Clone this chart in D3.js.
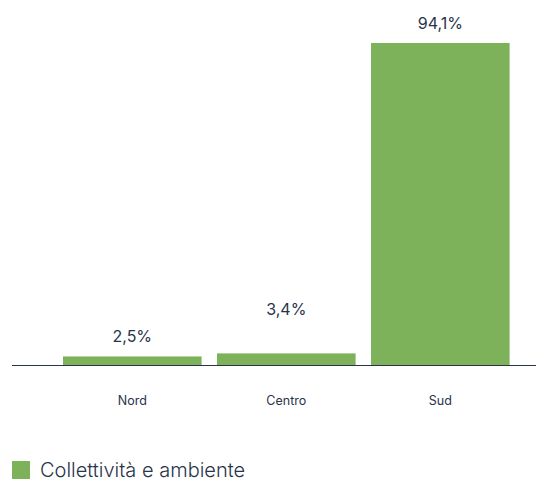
<!DOCTYPE html>
<html>
<head>
<meta charset="utf-8">
<script src="https://cdn.jsdelivr.net/npm/d3@7"></script>
<style>
  html, body { margin: 0; padding: 0; background: #fff; }
  svg { display: block; font-family: Inter, "Noto Sans", sans-serif; }
</style>
</head>
<body>
<svg id="chart" width="536" height="481"></svg>
<script>
// Quota per area geografica – Collettività e ambiente
const categories = ["Nord", "Centro", "Sud"];
const values = [2.5, 3.4, 94.1];
const seriesName = "Collettività e ambiente";

const barColor = "#7eb25a";
const textColor = "#28344a";

const svg = d3.select("#chart");

const baseline = 365;
const x = d3.scaleBand()
  .domain(categories)
  .range([55.3, 517.3])
  .paddingInner(0.1)
  .paddingOuter(0.05);

const y = d3.scaleLinear()
  .domain([0, 94.1])
  .range([baseline, 43]);

const fmt = v => d3.format(".1f")(v).replace(".", ",") + "%";

// bars
svg.append("g")
  .selectAll("rect")
  .data(values)
  .join("rect")
  .attr("x", (d, i) => x(categories[i]))
  .attr("y", d => y(d))
  .attr("width", x.bandwidth())
  .attr("height", d => baseline - y(d))
  .attr("fill", barColor);

// value labels; neighbouring short bars get their labels staggered
const labelLift = i => (i === 1 ? 38 : 14);
svg.append("g")
  .selectAll("text")
  .data(values)
  .join("text")
  .attr("x", (d, i) => x(categories[i]) + x.bandwidth() / 2)
  .attr("y", (d, i) => y(d) - labelLift(i))
  .attr("text-anchor", "middle")
  .attr("font-size", 16)
  .attr("fill", textColor)
  .text(fmt);

// baseline axis
const axis = svg.append("g")
  .attr("transform", `translate(0,${baseline})`)
  .call(d3.axisBottom(x).tickSize(0).tickPadding(31));
axis.select(".domain").attr("d", `M12,0.5H536`).attr("stroke", textColor).attr("stroke-width", 1.2);
axis.selectAll("text")
  .attr("font-family", "Inter, 'Noto Sans', sans-serif")
  .attr("font-size", 12.5)
  .attr("fill", textColor);

// legend
const legend = svg.append("g").attr("transform", "translate(12,461)");
legend.append("rect").attr("width", 18).attr("height", 18).attr("fill", barColor);
legend.append("text")
  .attr("x", 28)
  .attr("y", 16)
  .attr("font-size", 20)
  .attr("font-weight", 300)
  .attr("fill", textColor)
  .text(seriesName);
</script>
</body>
</html>
